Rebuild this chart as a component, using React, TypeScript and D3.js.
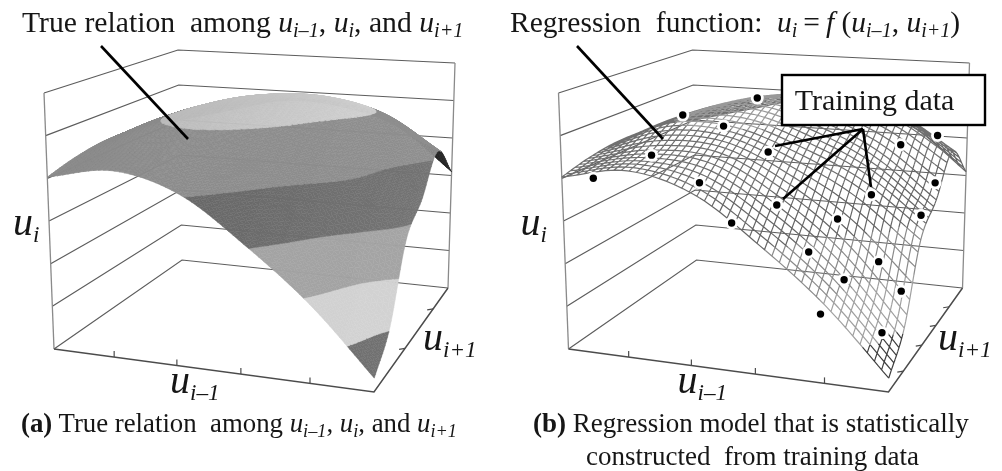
import React, { useMemo } from "react";
import * as d3 from "d3";

const rowY0 = [4.03, 4.39, 4.05, 3.05, 1.85, 0.33];
const rowY1 = [4.2, 4.6, 4.6, 3.85, 2.7, 1.05];
const rowY2 = [4.3, 5.0, 5.03, 4.55, 3.85, 2.75];
const rowY3 = [4.3, 5.02, 5.38, 5.05, 4.4, 3.3];
const rowY4 = [4.25, 4.85, 5.25, 5.3, 4.95, 4.1];
const rowY5 = [4.0, 4.4, 4.75, 4.65, 4.2, 3.1];
const heightRows = [rowY0, rowY1, rowY2, rowY3, rowY4, rowY5];

const levels = [0, 1, 2, 3, 4, 5, 6];
const xTicks = [0.188, 0.384, 0.584, 0.8];
const yTicksLeft = [0.42, 0.8];
const yTicksRight = [0.2, 0.45, 0.64, 0.82];

// training samples
const sampleX = [0.356, 0.1, 0.392, 0.161, 0.056, 0.384, 0.565, 0.848, 0.92, 0.982, 0.836, 0.622, 0.783, 0.987, 0.514, 0.735, 0.902, 0.832, 0.952, 0.786, 0.953];
const sampleY = [0.7, 0.7, 0.3, 0.3, 0.1, 0.1, 0.2, 0.7, 0.9, 0.65, 0.4, 0.1, 0.2, 0.45, 0, 0.05, 0.25, 0.1, 0.35, 0, 0.1];
const sampleZ = [5.29, 4.67, 5.22, 4.29, 3.92, 4.15, 4.91, 4.39, 4.25, 3.61, 3.73, 3.86, 3.49, 3.24, 3.5, 2.95, 2.46, 2.28, 1.55, 1.63, 1.13];

// colours per band between two levels, left end and right end
const bandLeft = ["#676767", "#cdcdcd", "#a0a0a0", "#5f5f5f", "#8a8a8a", "#b2b2b2"];
const bandRight = ["#717171", "#d2d2d2", "#a4a4a4", "#747474", "#8f8f8f", "#d8d8d8"];
const tipColor = "#262626";
const meshColors = ["#3f3f3f", "#a0a0a0", "#8a8a8a", "#666666", "#6f6f6f", "#999999"];

const W = 1002;
const H = 471;
const PANEL_B = 514.5;
const SERIF = "'Liberation Serif', serif";

// the box corners on screen, floor and top
const floorA = [54, 349], floorB = [374, 392], floorC = [448, 288], floorD = [182, 260];
const topA = [44, 93], topB = [379, 140], topC = [455, 63], topD = [178, 50];

const xScale = d3.scaleLinear().domain([0, 1]).range([0, 1]);
const yScale = d3.scaleLinear().domain([0, 1]).range([0, 1]);
const zScale = d3.scaleLinear().domain([0, 6]).range([0, 1]);

const mix = (p: number[], q: number[], t: number) => [p[0] + (q[0] - p[0]) * t, p[1] + (q[1] - p[1]) * t];
const onPlane = (a: number[], b: number[], c: number[], d: number[], x: number, y: number) =>
  mix(mix(a, b, xScale(x)), mix(d, c, xScale(x)), yScale(y));
const project = (x: number, y: number, z: number) =>
  mix(onPlane(floorA, floorB, floorC, floorD, x, y), onPlane(topA, topB, topC, topD, x, y), zScale(z));

const cubic = (a: number, b: number, c: number, d: number, t: number) =>
  0.5 * (2 * b + (c - a) * t + (2 * a - 5 * b + 4 * c - d) * t * t + (3 * b - a - 3 * c + d) * t * t * t);
const spline = (vals: number[], u: number) => {
  const n = vals.length - 1;
  const g = Math.min(u * n, n - 1e-6);
  const i = Math.floor(g);
  const before = i > 0 ? vals[i - 1] : 2 * vals[0] - vals[1];
  const after = i + 2 <= n ? vals[i + 2] : 2 * vals[n] - vals[n - 1];
  return cubic(before, vals[i], vals[i + 1], after, g - i);
};
const surface = (x: number, y: number) => spline(heightRows.map((r) => spline(r, x)), y);

type V = { x: number; y: number; z: number };

const clip = (poly: V[], lev: number, above: boolean) => {
  const out: V[] = [];
  const inside = (p: V) => (above ? p.z >= lev : p.z <= lev);
  poly.forEach((p, k) => {
    const q = poly[(k + 1) % poly.length];
    if (inside(p)) out.push(p);
    if (inside(p) !== inside(q)) {
      const t = (lev - p.z) / (q.z - p.z);
      out.push({ x: p.x + (q.x - p.x) * t, y: p.y + (q.y - p.y) * t, z: lev });
    }
  });
  return out;
};

const polyPath = (poly: V[]) =>
  "M" + poly.map((p) => project(p.x, p.y, p.z).map((n) => n.toFixed(2)).join(",")).join("L") + "Z";

const buildFacets = () => {
  const n = 64;
  const cells: { depth: number; d: string; fill: string }[] = [];
  const v = (i: number, j: number): V => ({ x: i / n, y: j / n, z: surface(i / n, j / n) });
  for (let i = 0; i < n; i++) {
    for (let j = 0; j < n; j++) {
      const a = v(i, j), b = v(i + 1, j), c = v(i + 1, j + 1), d = v(i, j + 1);
      [[a, b, c], [a, c, d]].forEach((tri) => {
        d3.range(6).forEach((band) => {
          const part = clip(clip(tri, band, true), band + 1, false);
          if (part.length < 3) return;
          const px = d3.mean(part, (p) => p.x) as number;
          const py = d3.mean(part, (p) => p.y) as number;
          const base = d3.interpolateRgb(bandLeft[band], bandRight[band])(px);
          const fill = band === 3 && py > 0.74 && px > 0.8 ? tipColor : base;
          cells.push({ depth: (i - j) / n, d: polyPath(part), fill });
        });
      });
    }
  }
  return cells.sort((p, q) => p.depth - q.depth);
};

const buildMesh = () => {
  const paths: string[] = d3.range(6).map(() => "");
  const seg = (p: V, q: V) => {
    const band = Math.max(0, Math.min(5, Math.floor((p.z + q.z) / 2)));
    const a = project(p.x, p.y, p.z);
    const b = project(q.x, q.y, q.z);
    paths[band] += `M${a[0].toFixed(2)},${a[1].toFixed(2)}L${b[0].toFixed(2)},${b[1].toFixed(2)}`;
  };
  const nx = 44;
  const ny = 30;
  const steps = 60;
  d3.range(nx + 1).forEach((i) => {
    d3.range(steps).forEach((s) => {
      const x = i / nx;
      seg({ x, y: s / steps, z: surface(x, s / steps) }, { x, y: (s + 1) / steps, z: surface(x, (s + 1) / steps) });
    });
  });
  d3.range(ny + 1).forEach((j) => {
    d3.range(steps).forEach((s) => {
      const y = j / ny;
      seg({ x: s / steps, y, z: surface(s / steps, y) }, { x: (s + 1) / steps, y, z: surface((s + 1) / steps, y) });
    });
  });
  return paths;
};

const line = d3.line();

const Box = ({ yTicks }: { yTicks: number[] }) => (
  <g fill="none">
    {levels.map((z) => (
      <path
        key={z}
        d={line([project(0, 0, z), project(0, 1, z), project(1, 1, z)] as [number, number][]) as string}
        stroke="#5c5c5c"
        strokeWidth={1.2}
      />
    ))}
    <path d={line([project(0, 0, 0), project(0, 0, 6)] as [number, number][]) as string} stroke="#8a8a8a" strokeWidth={1.3} />
    <path d={line([project(1, 1, 0), project(1, 1, 6)] as [number, number][]) as string} stroke="#8a8a8a" strokeWidth={1.3} />
    <path
      d={line([project(0, 0, 0), project(1, 0, 0), project(1, 1, 0)] as [number, number][]) as string}
      stroke="#4c4c4c"
      strokeWidth={1.5}
    />
    {xTicks.map((t) => {
      const p = project(t, 0, 0);
      return <line key={t} x1={p[0]} y1={p[1]} x2={p[0]} y2={p[1] - 6} stroke="#4c4c4c" strokeWidth={1.2} />;
    })}
    {yTicks.map((t) => {
      const p = project(1, t, 0);
      return <line key={t} x1={p[0]} y1={p[1]} x2={p[0] - 6} y2={p[1] + 1} stroke="#4c4c4c" strokeWidth={1.2} />;
    })}
  </g>
);

// text with italic u's and subscripts, parts are [string, kind]
type Part = [string, "r" | "b" | "u" | "s"];
const Rich = ({ x, y, size, parts, subScale = 0.68 }: { x: number; y: number; size: number; parts: Part[]; subScale?: number }) => {
  let offset = 0;
  return (
    <text x={x} y={y} fontFamily={SERIF} fontSize={size} fill="#161616" style={{ whiteSpace: "pre" }}>
      {parts.map(([s, kind], k) => {
        const target = kind === "s" ? size * 0.18 : 0;
        const dy = target - offset;
        offset = target;
        return (
          <tspan
            key={k}
            dy={dy}
            fontSize={kind === "s" ? size * subScale : size}
            fontStyle={kind === "u" || kind === "s" ? "italic" : "normal"}
            fontWeight={kind === "b" ? "bold" : "normal"}
          >
            {s}
          </tspan>
        );
      })}
    </text>
  );
};

const uPrev: Part[] = [["u", "u"], ["i–1", "s"]];
const uCur: Part[] = [["u", "u"], ["i", "s"]];
const uNext: Part[] = [["u", "u"], ["i+1", "s"]];

const AxisLabels = ({ shift, nextX }: { shift: number; nextX: number }) => (
  <>
    <Rich x={13 + shift} y={235} size={40} parts={uCur} subScale={0.58} />
    <Rich x={170 + shift} y={393} size={40} parts={uPrev} subScale={0.58} />
    <Rich x={nextX} y={350} size={40} parts={uNext} subScale={0.58} />
  </>
);

const App = () => {
  const facets = useMemo(buildFacets, []);
  const mesh = useMemo(buildMesh, []);
  const samples = sampleX.map((x, k) => project(x, sampleY[k], sampleZ[k]));

  return (
    <svg width={W} height={H} viewBox={`0 0 ${W} ${H}`} style={{ position: "absolute", left: 0, top: 0, background: "#fff" }}>
      <defs>
        <filter id="soft" x="0" y="0" width="100%" height="100%">
          <feGaussianBlur stdDeviation="0.45" />
        </filter>
      </defs>
      <g filter="url(#soft)">
        <g>
          <Box yTicks={yTicksLeft} />
          {facets.map((f, k) => (
            <path key={k} d={f.d} fill={f.fill} stroke={f.fill} strokeWidth={0.5} />
          ))}
          <line x1={101} y1={46} x2={188} y2={139} stroke="#000" strokeWidth={2.6} />
          <Rich
            x={22}
            y={32}
            size={29.7}
            parts={[["True relation  among ", "r"], ...uPrev, [", ", "r"], ...uCur, [", and ", "r"], ...uNext]}
          />
          <AxisLabels shift={0} nextX={423} />
          <Rich
            x={21}
            y={432}
            size={26.8}
            parts={[["(a)", "b"], [" True relation  among ", "r"], ...uPrev, [", ", "r"], ...uCur, [", and ", "r"], ...uNext]}
          />
        </g>

        <g transform={`translate(${PANEL_B},0)`}>
          <Box yTicks={yTicksRight} />
          {mesh.map((d, band) => (
            <path key={band} d={d} fill="none" stroke={meshColors[band]} strokeWidth={1.2} />
          ))}
          {samples.map((p, k) => (
            <circle key={k} cx={p[0]} cy={p[1]} r={6.5} fill="#fff" />
          ))}
          {samples.map((p, k) => (
            <circle key={k} cx={p[0]} cy={p[1]} r={3.7} fill="#000" />
          ))}
          <line x1={62.5} y1={46} x2={148.5} y2={139} stroke="#000" strokeWidth={2.6} />
          <g stroke="#000" strokeWidth={2.6}>
            <line x1={348.5} y1={129} x2={260.5} y2={146} />
            <line x1={348.5} y1={129} x2={268.5} y2={199} />
            <line x1={348.5} y1={129} x2={356.5} y2={187} />
          </g>
          <rect x={267.5} y={75} width={203} height={50} fill="#fff" stroke="#000" strokeWidth={2.4} />
          <text x={360} y={110} textAnchor="middle" fontFamily={SERIF} fontSize={30} fill="#161616">
            Training data
          </text>
          <Rich
            x={-4.5}
            y={32}
            size={29.5}
            parts={[["Regression  function:  ", "r"], ...uCur, ["\u2009=\u2009", "r"], ["f", "u"], [" (", "r"], ...uPrev, [", ", "r"], ...uNext, [")", "r"]]}
          />
          <AxisLabels shift={-7} nextX={423.5} />
          <Rich x={18.5} y={432} size={27} parts={[["(b)", "b"], [" Regression model that is statistically", "r"]]} />
          <Rich x={71.5} y={465} size={27} parts={[["constructed  from training data", "r"]]} />
        </g>
      </g>
    </svg>
  );
};

export default App;
